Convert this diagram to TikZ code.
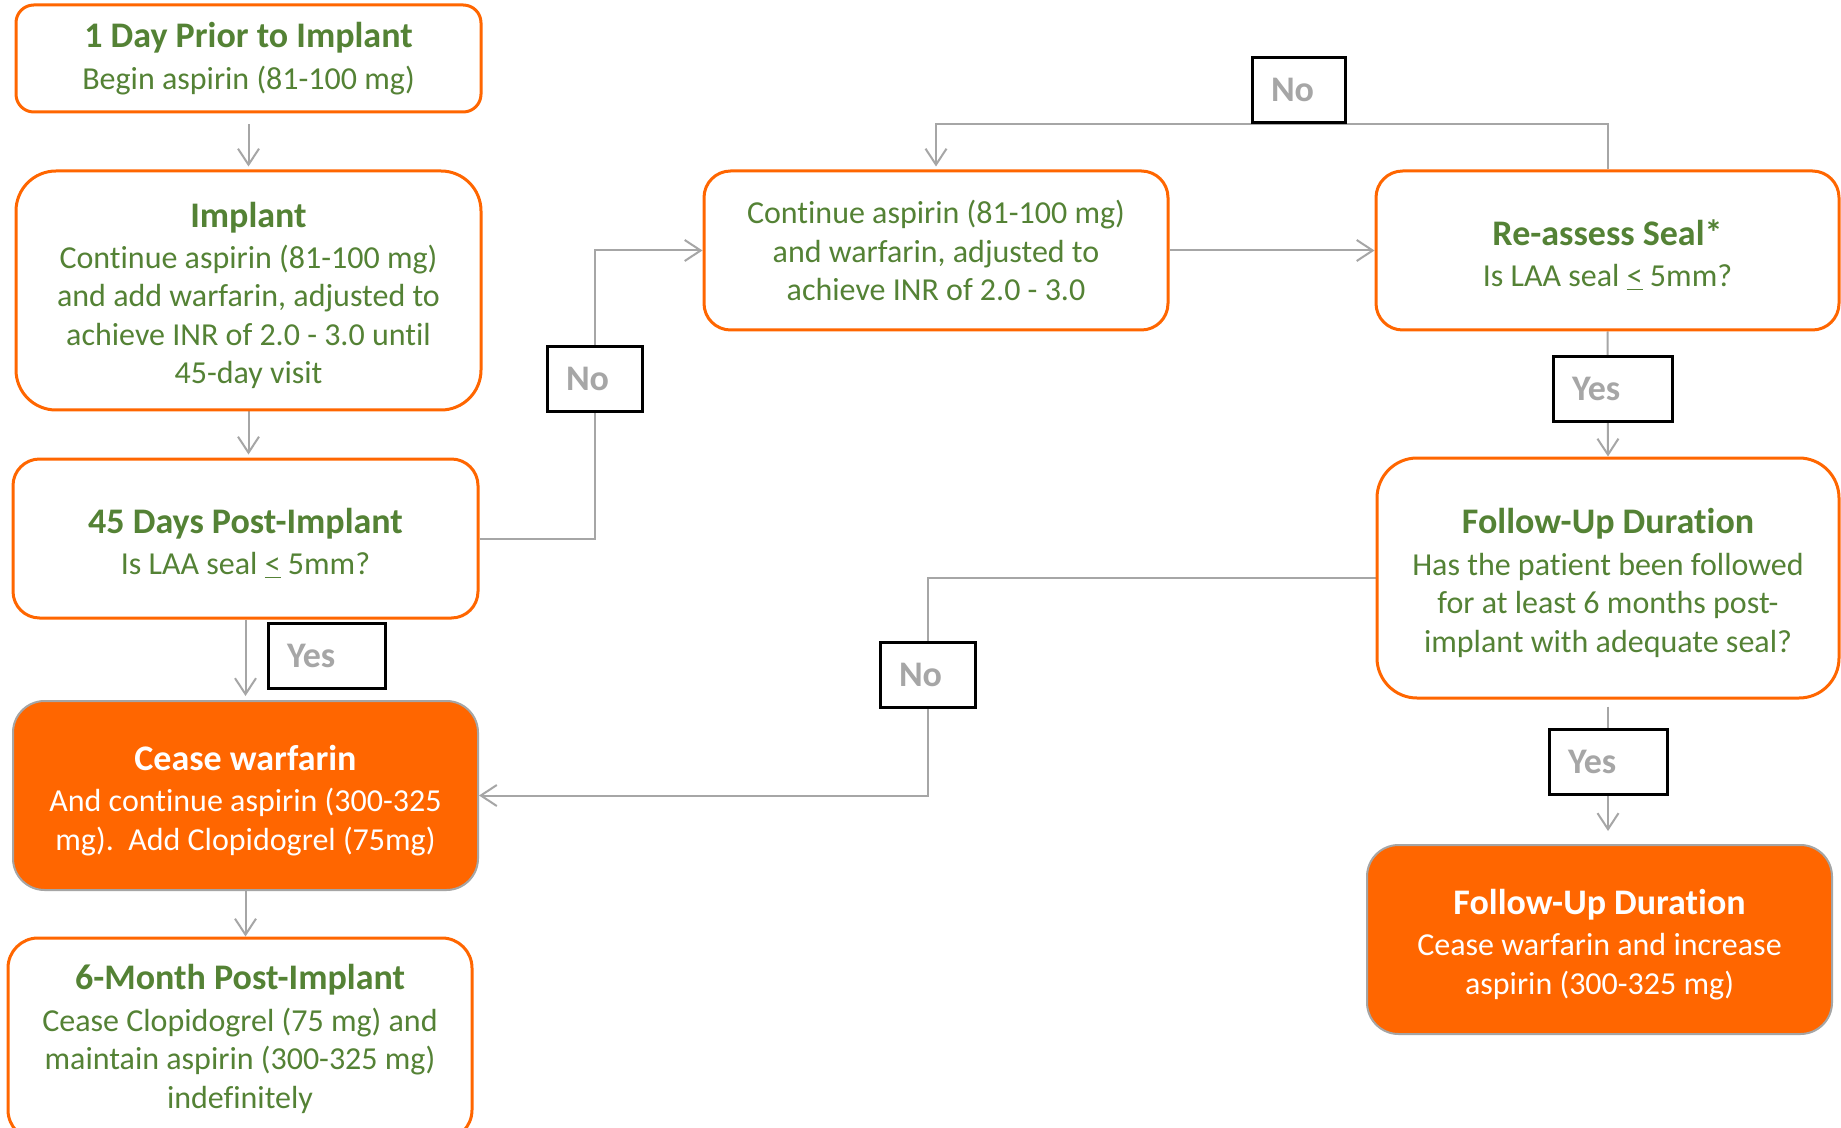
\documentclass[tikz,border=0pt]{standalone}
\usepackage{fontspec}
\setmainfont{Carlito}[Ligatures=NoCommon]
\usetikzlibrary{arrows.meta,backgrounds}

\definecolor{flowOrange}{HTML}{FF6600}
\definecolor{textGreen}{HTML}{548235}
\definecolor{lineGray}{HTML}{A6A6A6}
\definecolor{edgeGray}{HTML}{A5A5A5}

\tikzset{
  stage/.style={draw=flowOrange, line width=1.5pt, fill=white, text=textGreen,
    align=center, inner sep=0pt, font=\fontsize{16}{19.2}\selectfont},
  outcome/.style={stage, draw=edgeGray, line width=1pt, fill=flowOrange, text=white},
  answer/.style={draw=black, line width=1.5pt, fill=white, text=lineGray,
    font=\fontsize{18}{20}\selectfont\bfseries, inner xsep=9.5pt, inner ysep=0pt,
    align=left, minimum height=32.5pt},
  flow/.style={draw=lineGray, line width=1pt, -{Straight Barb[length=8pt,width=10.5pt]}}
}
\newcommand{\stagehead}[2][17.5pt]{{\rule{0pt}{#1}\fontsize{18}{19.2}\selectfont\bfseries #2}\\[1.5pt]}

\begin{document}
\begin{tikzpicture}[x=0.5pt, y=-0.5pt]
  \useasboundingbox (0,0) rectangle (1841,1128);

  \node[stage, minimum width=232.5pt, minimum height=53.5pt, rounded corners=8.9pt]
    (prior) at (248.5,58.5) {\stagehead[0pt]{1 Day Prior to Implant}Begin aspirin (81-100 mg)};
  \node[stage, minimum width=232.5pt, minimum height=119.5pt, rounded corners=20pt]
    (implant) at (248.5,290.5) {\stagehead{Implant}Continue aspirin (81-100 mg)\\
      and add warfarin, adjusted to\\ achieve INR of 2.0 - 3.0 until\\ 45-day visit};
  \node[stage, minimum width=232.5pt, minimum height=79.5pt, rounded corners=13.3pt]
    (day45) at (245.5,538.5) {\stagehead{45 Days Post-Implant}Is LAA seal \underline{<} 5mm?};
  \node[outcome, minimum width=232.5pt, minimum height=94.5pt, rounded corners=15.8pt]
    (cease) at (245.5,795.5) {\stagehead{Cease warfarin}And continue aspirin (300-325\\
      mg).\ \ Add Clopidogrel (75mg)};
  \node[stage, minimum width=232pt, minimum height=101pt, rounded corners=15pt]
    (month6) at (240,1039) {\stagehead[0pt]{6-Month Post-Implant}Cease Clopidogrel (75 mg) and\\
      maintain aspirin (300-325 mg)\\ indefinitely};
  \node[stage, minimum width=232pt, minimum height=79.5pt, rounded corners=13.3pt]
    (bridge) at (936,250.5) {Continue aspirin (81-100 mg)\\ and warfarin, adjusted to\\
      achieve INR of 2.0 - 3.0};
  \node[stage, minimum width=231.5pt, minimum height=79.5pt, rounded corners=13.3pt]
    (reassess) at (1607.5,250.5) {\stagehead{Re-assess Seal*}Is LAA seal \underline{<} 5mm?};
  \node[stage, minimum width=231pt, minimum height=120pt, rounded corners=20pt]
    (followq) at (1608,578) {\stagehead{Follow-Up Duration}Has the patient been followed\\
      for at least 6 months post-\\ implant with adequate seal?};
  \node[outcome, minimum width=232.5pt, minimum height=94.5pt, rounded corners=15.8pt]
    (followend) at (1599.5,939.5) {\stagehead{Follow-Up Duration}Cease warfarin and increase\\
      aspirin (300-325 mg)};

  \node[answer, text width=27.5pt] (noreassess) at (1298.5,90) {No};
  \node[answer, text width=28.5pt] (no45) at (594.5,379) {No};
  \node[answer, text width=39.5pt] (yes45) at (326.5,655.5) {Yes};
  \node[answer, text width=40.5pt] (yesseal) at (1612.5,389) {Yes};
  \node[answer, text width=28.5pt] (nofollow) at (927.5,674.5) {No};
  \node[answer, text width=40pt] (yesfollow) at (1608,761.5) {Yes};

  \begin{scope}[on background layer]
    \fill[white] (0,0) rectangle (1841,1128);
    \draw[flow, shorten <=5.5pt, shorten >=1.5pt] (prior.south) -- (implant.north);
    \draw[flow, shorten >=1.5pt] (implant.south) -- (implant.south |- day45.north);
    \draw[flow, shorten >=2pt] (day45.south) -- (cease.north);
    \draw[flow] (cease.south) -- (cease.south |- month6.north);
    \draw[flow] (day45.east) -| (no45.center) |- (bridge.west);
    \draw[flow] (bridge.east) -- (reassess.west);
    \draw[flow, shorten >=1.5pt] (reassess.north) |- (noreassess.south) -| (bridge.north);
    \draw[flow] (reassess.south) -- (followq.north);
    \draw[flow] (followq.west) -| (nofollow.center) |- (cease.east);
    \draw[flow, shorten <=3.5pt, shorten >=6.5pt] (followq.south) -- (followq.south |- followend.north);
  \end{scope}
\end{tikzpicture}
\end{document}
